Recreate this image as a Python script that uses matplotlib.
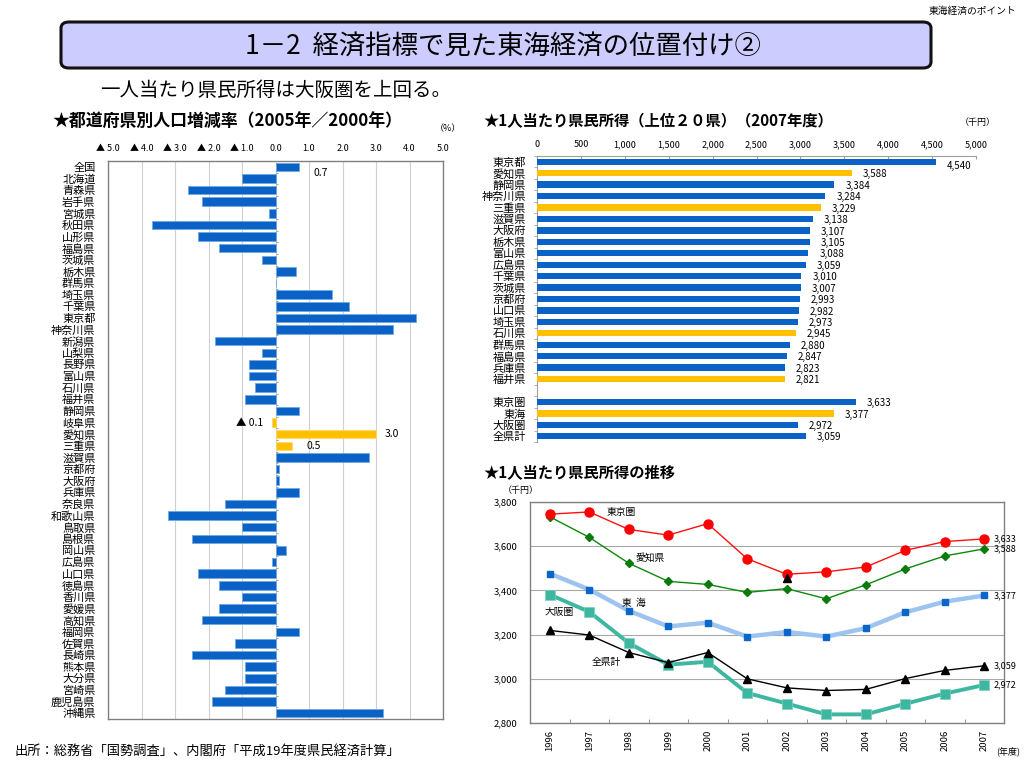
import matplotlib
matplotlib.use("Agg")
import matplotlib.pyplot as plt
from matplotlib.patches import FancyBboxPatch
import numpy as np

plt.rcParams['font.family'] = ['Noto Sans CJK JP', 'DejaVu Sans']

# ---------------- data ----------------
pref_names = ["全国", "北海道", "青森県", "岩手県", "宮城県", "秋田県", "山形県", "福島県",
              "茨城県", "栃木県", "群馬県", "埼玉県", "千葉県", "東京都", "神奈川県", "新潟県",
              "山梨県", "長野県", "富山県", "石川県", "福井県", "静岡県", "岐阜県", "愛知県",
              "三重県", "滋賀県", "京都府", "大阪府", "兵庫県", "奈良県", "和歌山県", "鳥取県",
              "島根県", "岡山県", "広島県", "山口県", "徳島県", "香川県", "愛媛県", "高知県",
              "福岡県", "佐賀県", "長崎県", "熊本県", "大分県", "宮崎県", "鹿児島県", "沖縄県"]
pop_change = [0.7, -1.0, -2.6, -2.2, -0.2, -3.7, -2.3, -1.7, -0.4, 0.6, 0.0, 1.7,
              2.2, 4.2, 3.5, -1.8, -0.4, -0.8, -0.8, -0.6, -0.9, 0.7, -0.1, 3.0,
              0.5, 2.8, 0.1, 0.1, 0.7, -1.5, -3.2, -1.0, -2.5, 0.3, -0.1, -2.3,
              -1.7, -1.0, -1.7, -2.2, 0.7, -1.2, -2.5, -0.9, -0.9, -1.5, -1.9, 3.2]
pop_highlight = ["岐阜県", "愛知県", "三重県"]
pop_ticks = [-5, -4, -3, -2, -1, 0, 1, 2, 3, 4, 5]
pop_tick_labels = ["▲ 5.0", "▲ 4.0", "▲ 3.0", "▲ 2.0", "▲ 1.0", "0.0",
                   "1.0", "2.0", "3.0", "4.0", "5.0"]

top20_names = ["東京都", "愛知県", "静岡県", "神奈川県", "三重県", "滋賀県", "大阪府",
               "栃木県", "富山県", "広島県", "千葉県", "茨城県", "京都府", "山口県",
               "埼玉県", "石川県", "群馬県", "福島県", "兵庫県", "福井県"]
top20_income = [4540, 3588, 3384, 3284, 3229, 3138, 3107, 3105, 3088, 3059,
                3010, 3007, 2993, 2982, 2973, 2945, 2880, 2847, 2823, 2821]
top20_highlight = ["愛知県", "三重県", "石川県", "福井県"]
region_names = ["東京圏", "東海", "大阪圏", "全県計"]
region_income = [3633, 3377, 2972, 3059]
region_highlight = ["東海"]

years = ["1996", "1997", "1998", "1999", "2000", "2001", "2002", "2003",
         "2004", "2005", "2006", "2007"]
tokyo_area = [3745, 3755, 3676, 3650, 3702, 3543, 3473, 3484, 3506, 3581, 3621, 3633]
aichi = [3733, 3640, 3523, 3441, 3427, 3391, 3408, 3362, 3425, 3497, 3556, 3588]
tokai = [3476, 3404, 3308, 3237, 3254, 3191, 3212, 3191, 3229, 3301, 3349, 3377]
osaka_area = [3381, 3303, 3162, 3064, 3077, 2936, 2888, 2839, 2839, 2887, 2933, 2972]
all_pref = [3219, 3198, 3119, 3073, 3119, 3000, 2959, 2947, 2952, 3001, 3038, 3059]
stray_year = ["2002"]
stray_value = [3458]

BLUE = "#0A62C6"
BLUE_EDGE = "#6FA8E0"
YELLOW = "#FFC000"

W, H = 1024, 768
fig = plt.figure(figsize=(W / 100, H / 100), dpi=100)


def fx(x):
    return x / W


def fy(y):
    return 1 - y / H


def rect(x0, y0, x1, y1):
    return [fx(x0), fy(y1), fx(x1) - fx(x0), fy(y0) - fy(y1)]


# ---------------- header ----------------
box = FancyBboxPatch((fx(61), fy(68)), fx(931) - fx(61), fy(22) - fy(68),
                     boxstyle="round,pad=0,rounding_size=0.008",
                     transform=fig.transFigure, facecolor="#CCCCFF",
                     edgecolor="#111111", linewidth=2.2, zorder=1)
fig.patches.append(box)
fig.text(fx(503), fy(46), "1－2  経済指標で見た東海経済の位置付け②", ha="center",
         va="center", fontsize=19)
fig.text(fx(1016), fy(11), "東海経済のポイント", ha="right", va="center", fontsize=7)
fig.text(fx(100), fy(90), "一人当たり県民所得は大阪圏を上回る。", ha="left",
         va="center", fontsize=14)
fig.text(fx(15), fy(751), "出所：総務省「国勢調査」、内閣府「平成19年度県民経済計算」",
         ha="left", va="center", fontsize=9.5)

# ---------------- left: population change ----------------
ax1 = fig.add_axes(rect(108, 161, 443, 719))
n = len(pref_names)
ypos = np.arange(n)
cols = [YELLOW if p in pop_highlight else BLUE for p in pref_names]
edges = ["#FFD966" if p in pop_highlight else BLUE_EDGE for p in pref_names]
ax1.barh(ypos, pop_change, height=0.74, color=cols, edgecolor=edges,
         linewidth=0.6, zorder=3)
ax1.set_xlim(-5, 5)
ax1.set_ylim(n - 0.5, -0.5)
ax1.set_xticks(pop_ticks)
ax1.set_xticklabels(pop_tick_labels, fontsize=6.5)
ax1.xaxis.tick_top()
ax1.tick_params(axis="x", length=0, pad=6)
ax1.set_yticks(ypos)
ax1.set_yticklabels(pref_names, fontsize=8)
ax1.tick_params(axis="y", length=0, pad=9)
ax1.grid(axis="x", color="#D0D0D0", linewidth=0.8, zorder=0)
for s in ax1.spines.values():
    s.set_color("#808080")
    s.set_linewidth(1.0)
# small ticks on the zero axis
ax1.hlines(np.arange(n + 1) - 0.5, 0, 0.08, color="#909090", linewidth=0.6, zorder=4)

idx = {p: i for i, p in enumerate(pref_names)}
ax1.text(1.12, idx["全国"] + 0.55, "0.7", fontsize=7.5, va="center", ha="left")
ax1.text(-0.38, idx["岐阜県"], "▲ 0.1", fontsize=7.5, va="center", ha="right")
ax1.text(3.25, idx["愛知県"], "3.0", fontsize=7.5, va="center", ha="left")
ax1.text(0.92, idx["三重県"], "0.5", fontsize=7.5, va="center", ha="left")

fig.text(fx(52), fy(121), "★都道府県別人口増減率（2005年／2000年）", ha="left",
         va="center", fontsize=12.2, fontweight="bold")
fig.text(fx(448), fy(129), "（%）", ha="center", va="center", fontsize=6.5)

# ---------------- right top: income top 20 ----------------
ax2 = fig.add_axes(rect(537, 156, 976, 442))
names2 = top20_names + [""] + region_names
vals2 = top20_income + [np.nan] + region_income
hl2 = top20_highlight + region_highlight
pos2 = np.arange(len(names2))
cols2 = [YELLOW if nm in hl2 else BLUE for nm in names2]
ax2.barh(pos2, vals2, height=0.55, color=cols2, edgecolor="none", zorder=3)
ax2.set_xlim(0, 5000)
ax2.set_ylim(len(names2) - 0.5, -0.5)
ax2.set_xticks(np.arange(0, 5001, 500))
ax2.set_xticklabels([f"{v:,}" for v in range(0, 5001, 500)], fontsize=6.5)
ax2.xaxis.tick_top()
ax2.tick_params(axis="x", length=2, direction="in", pad=5, color="#A0A0A0")
ax2.set_yticks(pos2)
ax2.set_yticklabels(names2, fontsize=8)
ax2.set_yticks(np.arange(len(names2) + 1) - 0.5, minor=True)
ax2.tick_params(axis="y", which="major", length=0, pad=8)
ax2.tick_params(axis="y", which="minor", length=2.5, color="#A0A0A0")
for side in ["right", "bottom"]:
    ax2.spines[side].set_visible(False)
for side in ["top", "left"]:
    ax2.spines[side].set_color("#A0A0A0")
    ax2.spines[side].set_linewidth(0.8)
for p, v in zip(pos2, vals2):
    if np.isnan(v):
        continue
    dy = 0.35 if p == 0 else 0.1
    ax2.annotate(f"{int(v):,}", (v, p + dy), xytext=(8, 0), textcoords="offset points",
                 fontsize=7, va="center", ha="left")

fig.text(fx(483), fy(121), "★1人当たり県民所得（上位２０県）（2007年度）", ha="left",
         va="center", fontsize=11, fontweight="bold")
fig.text(fx(978), fy(123), "（千円）", ha="center", va="center", fontsize=6.5)

# ---------------- right bottom: income trend ----------------
ax3 = fig.add_axes(rect(530, 502, 1004, 723))
xs = np.arange(len(years))
ax3.plot(xs, tokai, color="#9DC3F0", linewidth=3.2, zorder=3)
ax3.plot(xs, tokai, linestyle="none", marker="s", markersize=4, color="#0A66C8", zorder=4)
ax3.plot(xs, osaka_area, color="#3DB7A0", linewidth=2.8, marker="s", markersize=7,
         markerfacecolor="#3DB7A0", markeredgecolor="#7CCFBF", markeredgewidth=0.5, zorder=3)
ax3.plot(xs, all_pref, color="black", linewidth=1.0, marker="^", markersize=5.5, zorder=5)
ax3.plot(xs, aichi, color="#0A8A0A", linewidth=1.0, marker="D", markersize=4,
         markerfacecolor="#0A7A0A", markeredgecolor="#0A7A0A", zorder=5)
ax3.plot(xs, tokyo_area, color="#FF1010", linewidth=1.0, marker="o", markersize=6.5,
         markerfacecolor="#FF0000", markeredgecolor="#FF0000", zorder=6)
ax3.plot([years.index(y) for y in stray_year], stray_value, linestyle="none",
         marker="^", markersize=5.5, color="black", zorder=6)

ax3.set_xlim(-0.5, len(years) - 0.5)
ax3.set_ylim(2800, 3800)
ax3.set_yticks(range(2800, 3801, 200))
ax3.set_yticklabels([f"{v:,}" for v in range(2800, 3801, 200)], fontsize=6.8)
ax3.tick_params(axis="y", length=0, pad=9)
ax3.set_xticks(xs)
ax3.set_xticklabels(years, rotation=90, fontsize=6.8)
ax3.set_xticks(np.arange(len(years) + 1) - 0.5, minor=True)
ax3.tick_params(axis="x", which="major", length=0, pad=5)
ax3.tick_params(axis="x", which="minor", length=3, direction="in", color="#808080")
ax3.grid(axis="y", color="#A8A8A8", linewidth=0.8, zorder=0)
for s in ax3.spines.values():
    s.set_color("#808080")
    s.set_linewidth(1.0)

ax3.text(1.8, 3755, "東京圏", fontsize=7, ha="center", va="center", zorder=7)
ax3.text(2.53, 3546, "愛知県", fontsize=7, ha="center", va="center", zorder=7)
ax3.text(2.13, 3343, "東  海", fontsize=7, ha="center", va="center", zorder=7)
ax3.text(0.25, 3302, "大阪圏", fontsize=7, ha="center", va="center", zorder=7)
ax3.text(1.44, 3076, "全県計", fontsize=7, ha="center", va="center", zorder=7)
for series in [tokyo_area, aichi, tokai, all_pref, osaka_area]:
    ax3.annotate(f"{series[-1]:,}", (xs[-1], series[-1]), xytext=(7, 0),
                 textcoords="offset points", fontsize=6.5, va="center", ha="left",
                 annotation_clip=False, zorder=8)

fig.text(fx(483), fy(472), "★1人当たり県民所得の推移", ha="left", va="center",
         fontsize=11, fontweight="bold")
fig.text(fx(521), fy(491), "（千円）", ha="center", va="center", fontsize=6.5)
fig.text(fx(1008), fy(751), "(年度)", ha="center", va="center", fontsize=6.5)

fig.savefig("out.png", dpi=100)
